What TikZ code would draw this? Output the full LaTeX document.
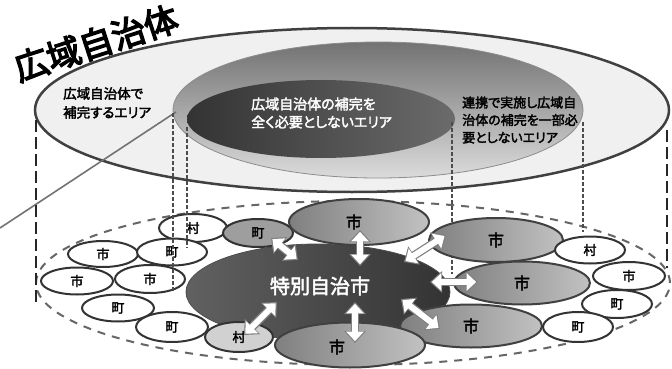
\documentclass[tikz,border=0pt]{standalone}
\usepackage{fontspec}
\newfontfamily\cjk[RawFeature={+palt},AutoFakeBold=2.5]{Noto Sans CJK JP}
\newfontfamily\cjkt[AutoFakeBold=4]{Noto Sans CJK JP}
\usetikzlibrary{shapes.geometric,arrows.meta}
\tikzset{
  disk/.style={ellipse, inner sep=0pt},
  outerdisk/.style={disk, draw=black!75, line width=2.5pt, fill=black!6},
  middisk/.style={disk, draw=black!45, line width=0.8pt, top color=black!55, bottom color=black!14},
  innerdisk/.style={disk, left color=black!80, right color=black!58},
  lowdisk/.style={disk, draw=black!60, line width=2pt, dash pattern=on 8pt off 7pt},
  town/.style={disk, draw=black!80, line width=2pt, fill=white, font=\cjk\bfseries\fontsize{13}{13}\selectfont},
  graytown/.style={town, fill=black!38},
  lighttown/.style={town, fill=black!18},
  bigcity/.style={disk, draw=black!75, line width=2pt, left color=black!50, right color=black!24, font=\cjk\bfseries\fontsize{16}{16}\selectfont},
  citytext/.style={inner sep=0pt, font=\cjk\bfseries\fontsize{16}{16}\selectfont},
  special/.style={disk, draw=black!70, line width=0.8pt, left color=black!62, right color=black!80},
  label/.style={align=left, anchor=west, inner sep=0pt},
  vdash/.style={black!85, line width=2.6pt, dash pattern=on 12pt off 5pt},
  vthin/.style={black!70, line width=1.1pt, dash pattern=on 4pt off 2pt},
  arrowout/.style={black!50, line width=8.5pt, {Triangle[length=12pt,width=21pt]}-{Triangle[length=12pt,width=21pt]}},
  arrowin/.style={white, line width=6pt, shorten >=1.8pt, shorten <=1.8pt, {Triangle[length=9.5pt,width=17pt]}-{Triangle[length=9.5pt,width=17pt]}},
}
\begin{document}
\begin{tikzpicture}[x=1pt,y=-1pt]
\useasboundingbox (0,0) rectangle (672,369);
\fill[white] (0,0) rectangle (672,369);

% upper level
\node[outerdisk, minimum width=634pt, minimum height=164pt] (outer) at (352,110) {};
\node[middisk, minimum width=410pt, minimum height=136pt] (mid) at (378,110) {};
\node[innerdisk, minimum width=268pt, minimum height=78pt] (inner) at (321,119) {};

\node[label, font=\cjk\bfseries\fontsize{13.5}{19}\selectfont] (lbl1) at (63,103) {広域自治体で\\補完するエリア};
\node[label, text=white, font=\cjk\bfseries\fontsize{14}{18}\selectfont] (lbl2) at (251,113) {広域自治体の補完を\\全く必要としないエリア};
\node[label, font=\cjk\bfseries\fontsize{13}{17.5}\selectfont] (lbl3) at (462,120) {連携で実施し広域自\\治体の補完を一部必\\要としないエリア};

\node[rotate=18, inner sep=0pt, font=\cjkt\bfseries\fontsize{34}{34}\selectfont] (title) at (96,43) {広域自治体};

% callout line
\coordinate (cA) at (0,228);
\coordinate (cB) at (176,112);
\draw[black!55, line width=1.6pt] (cA) -- (cB);

% lower level
\node[lowdisk, minimum width=634pt, minimum height=164pt] (low) at (353,283) {};

% vertical dashed lines
\coordinate (v1a) at (36,120);  \coordinate (v1b) at (36,302);
\coordinate (v2a) at (667,130); \coordinate (v2b) at (667,268);
\draw[vdash] (v1a) -- (v1b);
\draw[vdash] (v2a) -- (v2b);

% special city
\node[special, minimum width=264pt, minimum height=96pt] (spc) at (318,292) {};

% small towns (left)
\node[town, minimum width=68pt, minimum height=28pt] (t1) at (193,228) {村};
\node[town, minimum width=70pt, minimum height=26pt] (t3) at (103,254) {市};
\node[town, minimum width=70pt, minimum height=27pt] (t4) at (172,252) {町};
\node[town, minimum width=72pt, minimum height=27pt] (t5) at (77,281) {市};
\node[town, minimum width=70pt, minimum height=28pt] (t6) at (150,279) {市};
\node[town, minimum width=72pt, minimum height=27pt] (t7) at (118,308) {町};
\node[town, minimum width=72pt, minimum height=30pt] (t8) at (172,327) {町};

% thin verticals
\coordinate (w1a) at (173,113); \coordinate (w1b) at (173,292);
\coordinate (w2a) at (187,127); \coordinate (w2b) at (187,248);
\coordinate (w3a) at (452,122); \coordinate (w3b) at (452,274);
\coordinate (w4a) at (583,122); \coordinate (w4b) at (583,232);
\draw[vthin] (w1a) -- (w1b);
\draw[vthin] (w2a) -- (w2b);
\draw[vthin] (w3a) -- (w3b);
\draw[vthin] (w4a) -- (w4b);

\node[graytown, minimum width=70pt, minimum height=28pt] (t2) at (258,233) {町};
\node[lighttown, minimum width=68pt, minimum height=30pt] (t9) at (239,337) {村};

% big cities
\node[bigcity, minimum width=140pt, minimum height=46pt] (c1) at (359,222) {};
\node[citytext] (c1l) at (354,222) {市};
\node[bigcity, minimum width=134pt, minimum height=44pt] (c2) at (496,240) {市};
\node[town, minimum width=70pt, minimum height=27pt] (r1) at (590,250) {村};
\node[bigcity, minimum width=136pt, minimum height=43pt] (c3) at (522,283) {市};
\node[bigcity, minimum width=142pt, minimum height=43pt] (c4) at (471,326) {市};
\node[bigcity, minimum width=150pt, minimum height=45pt] (c5) at (350,345) {};
\node[citytext] (c5l) at (337,347) {市};

% small towns (right)
\node[town, minimum width=72pt, minimum height=28pt] (r2) at (629,276) {市};
\node[town, minimum width=70pt, minimum height=28pt] (r3) at (617,304) {町};
\node[town, minimum width=70pt, minimum height=30pt] (r4) at (578,327) {町};

\node[text=white, inner sep=0pt, font=\cjk\bfseries\fontsize{20}{20}\selectfont] (spcl) at (320,286) {特別自治市};

% arrows
\coordinate (a1s) at (271,238); \coordinate (a1e) at (298,260);
\coordinate (a2s) at (360,230); \coordinate (a2e) at (360,266);
\coordinate (a3s) at (404,262); \coordinate (a3e) at (446,235);
\coordinate (a4s) at (430,282); \coordinate (a4e) at (478,282);
\coordinate (a5s) at (401,299); \coordinate (a5e) at (440,329);
\coordinate (a6s) at (355,302); \coordinate (a6e) at (355,343);
\coordinate (a7s) at (277,302); \coordinate (a7e) at (244,335);
\foreach \s/\e in {a1s/a1e,a2s/a2e,a3s/a3e,a4s/a4e,a5s/a5e,a6s/a6e,a7s/a7e}{
  \draw[arrowout] (\s) -- (\e);
  \draw[arrowin] (\s) -- (\e);
}
\end{tikzpicture}
\end{document}
